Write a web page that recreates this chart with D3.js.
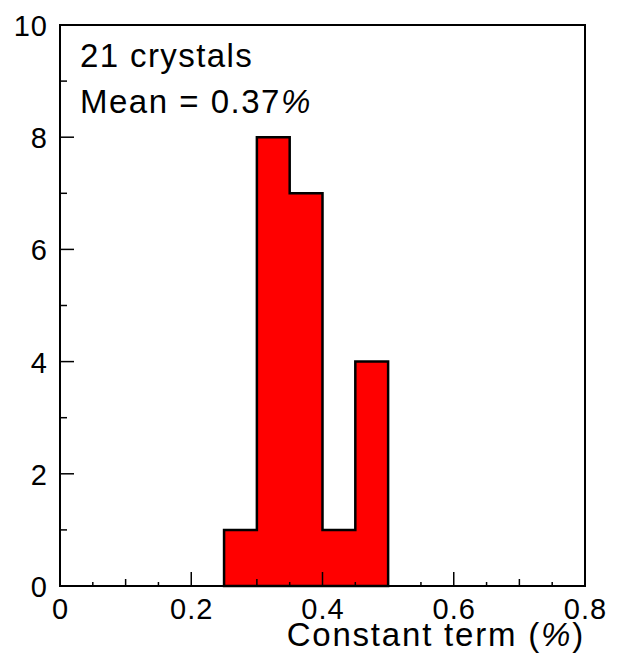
<!DOCTYPE html>
<html>
<head>
<meta charset="utf-8">
<script src="https://cdn.jsdelivr.net/npm/d3@7"></script>
<style>
  body { margin: 0; background: #fff; }
  text { font-family: "Liberation Sans", Arial, Helvetica, sans-serif; fill: #000; }
</style>
</head>
<body>
<div id="chart"></div>
<script>
// histogram bins (edges) and counts
var binEdges = [0.25, 0.30, 0.35, 0.40, 0.45, 0.50];
var counts = [1, 8, 7, 1, 4];
var xTicks = [0, 0.2, 0.4, 0.6, 0.8];
var yTicks = [0, 2, 4, 6, 8, 10];
var infoLines = ["21 crystals", "Mean = 0.37"];

var W = 618, H = 656;
var margin = { left: 60, right: 33, top: 25, bottom: 70 };

var svg = d3.select("#chart").append("svg")
  .attr("width", W)
  .attr("height", H);

var x = d3.scaleLinear().domain([0, 0.8]).range([margin.left, W - margin.right]);
var y = d3.scaleLinear().domain([0, 10]).range([H - margin.bottom, margin.top]);

// histogram: filled step shape with black outline
var pts = [[binEdges[0], 0]];
counts.forEach(function (c, i) {
  pts.push([binEdges[i], c]);
  pts.push([binEdges[i + 1], c]);
});
pts.push([binEdges[binEdges.length - 1], 0]);

var line = d3.line().x(function (d) { return x(d[0]); }).y(function (d) { return y(d[1]); });

svg.append("path")
  .attr("d", line(pts) + "Z")
  .attr("fill", "#ff0000")
  .attr("stroke", "#000")
  .attr("stroke-width", 2.5)
  .attr("stroke-linejoin", "miter");

// ticks, drawn inward
var ticks = svg.append("g").attr("stroke", "#000").attr("stroke-width", 1.5);
d3.range(0, 0.8001, 0.05).forEach(function (v, i) {
  var len = (i % 4 === 0) ? 14 : (i % 2 === 0 ? 7 : 4);
  ticks.append("line")
    .attr("x1", x(v)).attr("x2", x(v))
    .attr("y1", y(0)).attr("y2", y(0) - len);
});
d3.range(0, 10.001, 1).forEach(function (v, i) {
  var len = (i % 2 === 0) ? 14 : 7;
  ticks.append("line")
    .attr("x1", x(0)).attr("x2", x(0) + len)
    .attr("y1", y(v)).attr("y2", y(v));
});

// frame
svg.append("rect")
  .attr("x", x(0)).attr("y", y(10))
  .attr("width", x(0.8) - x(0))
  .attr("height", y(0) - y(10))
  .attr("fill", "none")
  .attr("stroke", "#000")
  .attr("stroke-width", 2);

// tick labels
svg.selectAll(".xl").data(xTicks).enter().append("text")
  .attr("x", function (d) { return x(d) + 0.5; })
  .attr("y", y(0) + 33)
  .attr("text-anchor", "middle")
  .style("font-size", "29px")
  .style("letter-spacing", "1px")
  .text(function (d) { return d === 0 ? "0" : d.toFixed(1); });

svg.selectAll(".yl").data(yTicks).enter().append("text")
  .attr("x", x(0) - 12)
  .attr("y", function (d) { return y(d) + 11; })
  .attr("text-anchor", "end")
  .style("font-size", "29px")
  .style("letter-spacing", "1px")
  .text(function (d) { return d; });

// axis title
var xt = svg.append("text")
  .attr("x", x(0.8))
  .attr("y", H - 10)
  .attr("text-anchor", "end")
  .style("font-size", "33px")
  .style("letter-spacing", "1.8px");
xt.append("tspan").text("Constant term (");
xt.append("tspan").style("font-style", "italic").text("%");
xt.append("tspan").text(")");

// info text
svg.append("text")
  .attr("x", 80).attr("y", 67)
  .style("font-size", "33px")
  .style("letter-spacing", "1.4px")
  .text(infoLines[0]);
var mt = svg.append("text")
  .attr("x", 80).attr("y", 113)
  .style("font-size", "33px")
  .style("letter-spacing", "1.5px");
mt.append("tspan").text(infoLines[1]);
mt.append("tspan").style("font-style", "italic").text("%");
</script>
</body>
</html>
